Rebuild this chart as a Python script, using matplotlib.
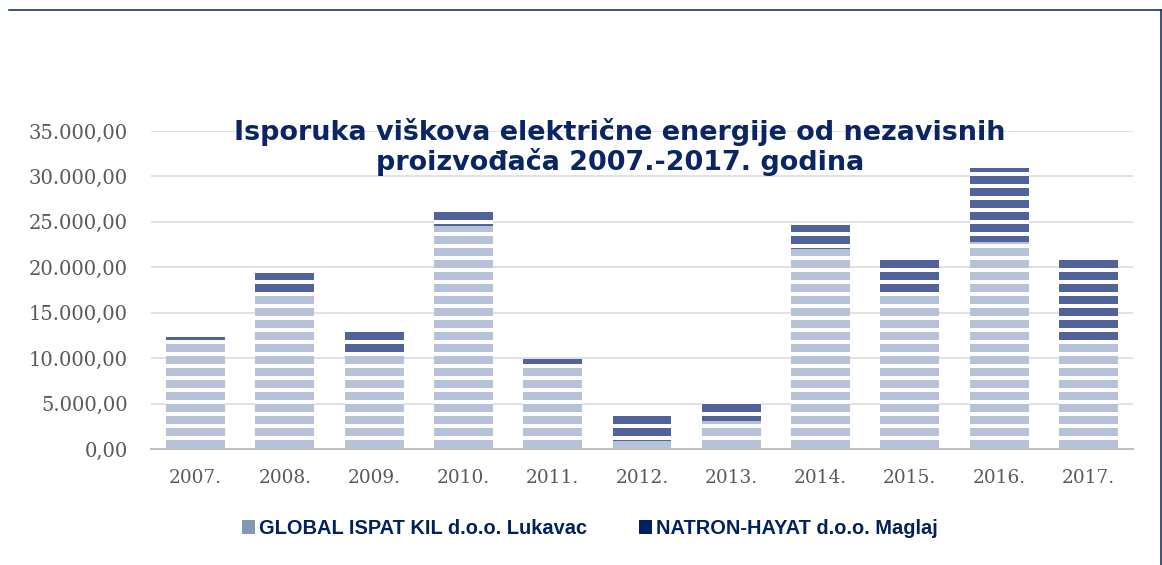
import numpy as np
import matplotlib
matplotlib.use("Agg")
from matplotlib import pyplot as plt
from matplotlib.patches import Patch
from matplotlib.lines import Line2D
from matplotlib.ticker import FuncFormatter


years = ["2007.", "2008.", "2009.", "2010.", "2011.", "2012.",
         "2013.", "2014.", "2015.", "2016.", "2017."]
global_ispat = [11600, 17200, 10400, 24500, 9100, 900, 3100, 22000, 17300, 22800, 11900]
natron_hayat = [700, 2200, 2800, 1800, 800, 3150, 2100, 2700, 3800, 8100, 9200]
y_ticks = [0, 5000, 10000, 15000, 20000, 25000, 30000, 35000]

title = "Isporuka viškova električne energije od nezavisnih\nproizvođača 2007.-2017. godina"
series_names = ["GLOBAL ISPAT KIL d.o.o. Lukavac", "NATRON-HAYAT d.o.o. Maglaj"]

navy = "#002060"
grey_blue = "#8497B0"

# dpi 72 -> 1pt = 1px, and hatch '-' repeats every 12px like the reference bands
dpi = 72
fig = plt.figure(figsize=(1162 / dpi, 565 / dpi), dpi=dpi)
plt.rcParams['hatch.linewidth'] = 4.0

ax = fig.add_axes([151 / 1162, (565 - 449) / 565, (1133 - 151) / 1162, (449 - 131) / 565])

x = np.arange(len(years))
ax.bar(x, global_ispat, width=0.66, color="#b6c2d8", edgecolor="white",
       linewidth=0, hatch="-", zorder=3)
ax.bar(x, natron_hayat, bottom=global_ispat, width=0.66, color="#51639a",
       edgecolor="white", linewidth=0, hatch="-", zorder=3)

ax.set_xlim(-0.5, len(years) - 0.5)
ax.set_ylim(0, 35000)
ax.set_xticks(x)
ax.set_xticklabels(years)
ax.set_yticks(y_ticks)
ax.yaxis.set_major_formatter(FuncFormatter(
    lambda v, p: f"{v:,.2f}".replace(",", " ").replace(".", ",").replace(" ", ".")))

for lbl in ax.get_xticklabels():
    lbl.set_family("DejaVu Serif")
    lbl.set_fontsize(18.5)
    lbl.set_color("#595959")
for lbl in ax.get_yticklabels():
    lbl.set_family("DejaVu Serif")
    lbl.set_fontsize(19.5)
    lbl.set_color("#595959")
ax.tick_params(length=0)
ax.tick_params(axis="x", pad=20)
ax.tick_params(axis="y", pad=23)

ax.grid(axis="y", color="#d9d9d9", linewidth=1.5, zorder=0)
for s in ["top", "right", "left"]:
    ax.spines[s].set_visible(False)
ax.spines["bottom"].set_color("#bfbfbf")
ax.spines["bottom"].set_linewidth(2)
ax.spines["bottom"].set_zorder(4)

fig.text(620 / 1162, 1 - 147 / 565, title, ha="center", va="center",
         multialignment="center", fontsize=27, fontweight="bold",
         family=["DejaVu Sans"], color="#0b2463",
         linespacing=1.1)

handles = [Patch(color=grey_blue), Patch(color=navy)]
leg = fig.legend(handles, series_names, loc="center", ncol=2,
                 bbox_to_anchor=(590 / 1162, 1 - 528 / 565), frameon=False,
                 handlelength=0.6, handleheight=0.6, handletextpad=0.25,
                 columnspacing=2.6,
                 prop={"family": ["Liberation Sans", "DejaVu Sans"],
                       "weight": "bold", "size": 20})
for t in leg.get_texts():
    t.set_color(navy)

# frame lines of the chart box
fig.add_artist(Line2D([9 / 1162, 1161 / 1162], [1 - 10 / 565, 1 - 10 / 565],
                      color=navy, linewidth=1.5))
fig.add_artist(Line2D([1161 / 1162, 1161 / 1162], [0, 1 - 10 / 565],
                      color=navy, linewidth=1.5))

fig.savefig("out.png", dpi=dpi)
